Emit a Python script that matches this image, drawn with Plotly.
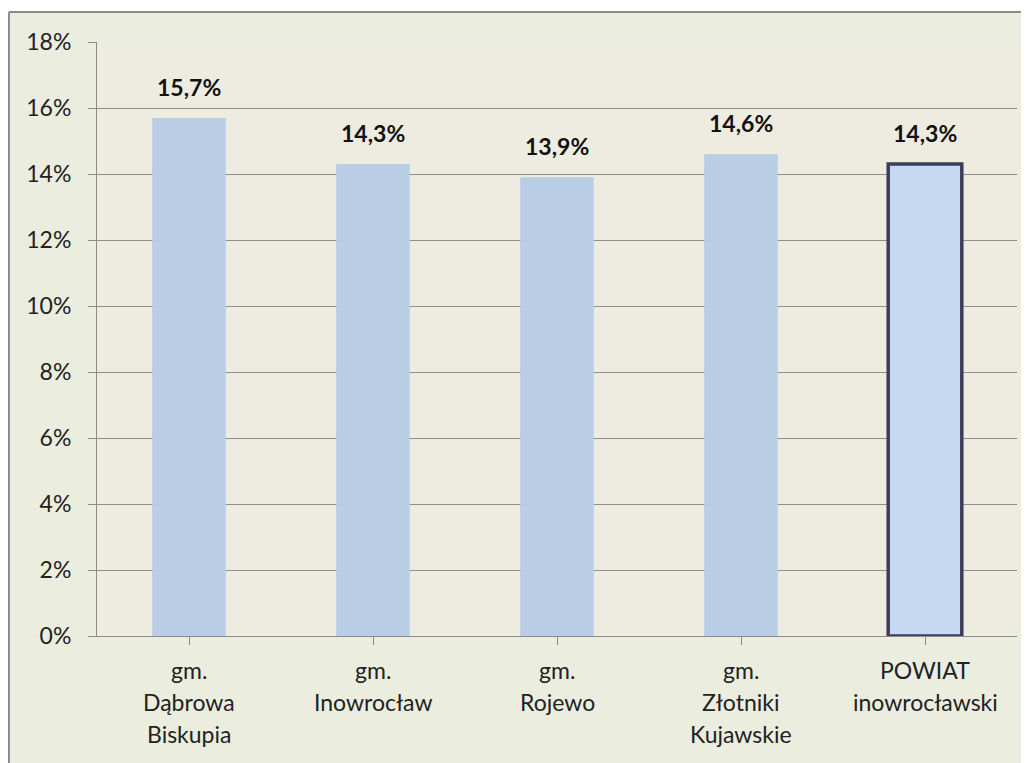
import plotly.graph_objects as go

categories = ["gm.<br>Dąbrowa<br>Biskupia", "gm.<br>Inowrocław", "gm.<br>Rojewo",
              "gm.<br>Złotniki<br>Kujawskie", "POWIAT<br>inowrocławski"]
values = [0.157, 0.143, 0.139, 0.146, 0.143]
bar_colors = ["#B9CDE5", "#B9CDE5", "#B9CDE5", "#B9CDE5", "#C6D9F1"]
line_colors = ["#B9CDE5", "#B9CDE5", "#B9CDE5", "#B9CDE5", "#3E3C58"]
line_widths = [0, 0, 0, 0, 3.5]
tick_vals = [0, 0.02, 0.04, 0.06, 0.08, 0.10, 0.12, 0.14, 0.16, 0.18]

FONT = "Lato"
x_idx = list(range(len(categories)))

fig = go.Figure()
fig.add_trace(go.Bar(
    x=x_idx, y=values, width=0.4,
    marker=dict(color=bar_colors, line=dict(color=line_colors, width=line_widths)),
    hoverinfo="skip",
))

annotations = []
for i, v in enumerate(values):
    annotations.append(dict(
        x=i, y=v, xref="x", yref="y", yanchor="bottom", showarrow=False,
        text=f"{v*100:.1f}%".replace(".", ","), yshift=15,
        font=dict(family=FONT, size=23, color="#111111", weight="bold"),
    ))
for i, cat in enumerate(categories):
    for j, line in enumerate(cat.split("<br>")):
        annotations.append(dict(
            x=i, y=0, xref="x", yref="y", yanchor="top", showarrow=False,
            text=line, yshift=-(18 + 32 * j),
            font=dict(family=FONT, size=23, color="#222222"),
        ))

fig.update_layout(
    width=1021, height=755,
    margin=dict(l=89, r=12, t=34, b=127),
    paper_bgcolor="#EBEEDF",
    plot_bgcolor="#EEEBE1",
    separators=",.",
    showlegend=False,
    annotations=annotations,
    shapes=[
        dict(type="rect", xref="paper", yref="paper", x0=-0.2, x1=1.2, y0=1.0505, y1=1.2,
             fillcolor="white", line=dict(width=0), layer="above"),
        dict(type="rect", xref="paper", yref="paper", x0=-0.2, x1=-0.0957, y0=-0.3, y1=1.2,
             fillcolor="white", line=dict(width=0), layer="above"),
        dict(type="line", xref="paper", yref="paper", x0=-0.0957, x1=1.2, y0=1.0505, y1=1.0505,
             line=dict(color="#8A8A8A", width=2), layer="above"),
        dict(type="line", xref="paper", yref="paper", x0=-0.0957, x1=-0.0957, y0=-0.3, y1=1.0505,
             line=dict(color="#8A8A8A", width=2), layer="above"),
    ],
)
fig.update_xaxes(
    range=[-0.5, 4.5], tickvals=x_idx, showticklabels=False,
    tickson="boundaries", ticks="outside", ticklen=8, tickcolor="#8A8A8A", tickwidth=1,
    showline=True, linecolor="#8A8A8A", linewidth=1, showgrid=False, zeroline=False,
)
fig.update_yaxes(
    range=[0, 0.18], tickvals=tick_vals, tickformat=".0%",
    ticks="outside", ticklen=8, tickcolor="#8A8A8A", tickwidth=1, ticklabelstandoff=12,
    showline=True, linecolor="#8A8A8A", linewidth=1,
    showgrid=True, gridcolor="#8E8E8E", gridwidth=1, zeroline=False,
    tickfont=dict(family=FONT, size=23, color="#222222"),
)

fig.write_html("out.html")
